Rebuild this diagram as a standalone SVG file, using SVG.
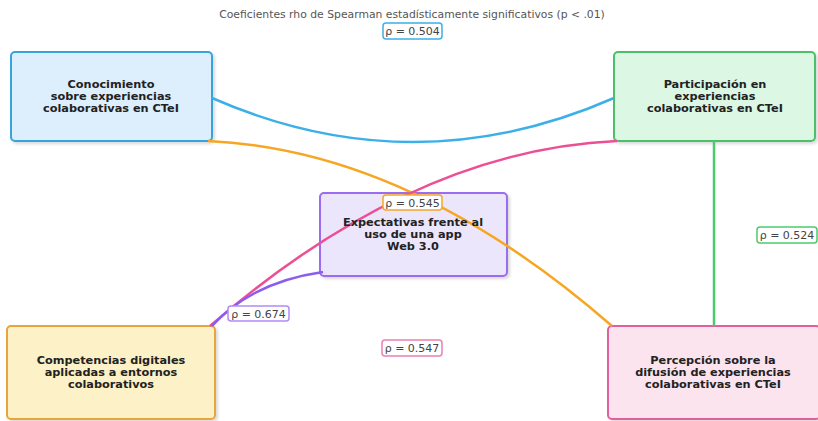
<svg xmlns="http://www.w3.org/2000/svg" width="818" height="421" viewBox="0 0 818 421">
<defs>
<filter id="sh" x="-10%" y="-10%" width="130%" height="130%"><feDropShadow dx="2" dy="2" stdDeviation="1.5" flood-color="#000" flood-opacity="0.15"/></filter>
<style>
.nt{font-family:"DejaVu Sans",sans-serif;font-weight:bold;font-size:11.3px;fill:#222;text-anchor:middle}
.lt{font-family:"DejaVu Sans",sans-serif;font-size:11px;fill:#444;text-anchor:middle}
.box{stroke-width:2}
.lb{fill:#fff;stroke-width:1.5}
.c{fill:none;stroke-width:2.5}
</style>
</defs>
<rect width="818" height="421" fill="#fff"/>
<text x="412" y="18" style="font-family:'DejaVu Sans',sans-serif;font-size:10.8px;fill:#555;text-anchor:middle">Coeficientes rho de Spearman estadísticamente significativos (p &lt; .01)</text>
<g id="n1"><rect class="box" x="11" y="52" width="201" height="89" rx="4" fill="#ddeefc" stroke="#3aa3dc" filter="url(#sh)"/>
<text class="nt"><tspan x="111" y="88">Conocimiento</tspan><tspan x="111" y="100">sobre experiencias</tspan><tspan x="111" y="112">colaborativas en CTeI</tspan></text></g>
<g id="n2"><rect class="box" x="614" y="52" width="201" height="89" rx="4" fill="#dcf7e3" stroke="#4cbf6b" filter="url(#sh)"/>
<text class="nt"><tspan x="715" y="88">Participación en</tspan><tspan x="715" y="100">experiencias</tspan><tspan x="715" y="112">colaborativas en CTeI</tspan></text></g>
<g id="n4"><rect class="box" x="7" y="326" width="208" height="93" rx="4" fill="#fdf1c7" stroke="#e7a53b" filter="url(#sh)"/>
<text class="nt"><tspan x="111" y="364">Competencias digitales</tspan><tspan x="111" y="376">aplicadas a entornos</tspan><tspan x="111" y="388">colaborativos</tspan></text></g>
<g id="n5"><rect class="box" x="608" y="326" width="212" height="93" rx="4" fill="#fce4ef" stroke="#e0609c" filter="url(#sh)"/>
<text class="nt"><tspan x="713" y="364">Percepción sobre la</tspan><tspan x="713" y="376">difusión de experiencias</tspan><tspan x="713" y="388">colaborativas en CTeI</tspan></text></g>
<g id="n3"><rect class="box" x="320" y="193" width="187" height="83" rx="4" fill="#ebe6fb" stroke="#9b6cf0" filter="url(#sh)"/></g>
<g id="connectors">
<path class="c" d="M212,98 Q413,186 614,98" stroke="#3bb0e8"/>
<path class="c" d="M208,141 Q410,150 612,326" stroke="#f6a623"/>
<path class="c" d="M210,326 Q413,150 617,141" stroke="#ec4f94"/>
<path class="c" d="M212,326 Q252,282 323,272" stroke="#8a5cf0" stroke-width="4.5"/>
<path class="c" d="M714,141 L714,326" stroke="#4ccb6c"/>
</g>
<g id="n3text"><text class="nt"><tspan x="413" y="226">Expectativas frente al</tspan><tspan x="413" y="238">uso de una app</tspan><tspan x="413" y="250">Web 3.0</tspan></text></g>
<g id="labels">
<rect class="lb" x="383" y="23" width="59" height="16" rx="3" stroke="#3bb0e8"/><text class="lt" x="412.5" y="35">ρ = 0.504</text>
<rect class="lb" x="383" y="195" width="59" height="15" rx="3" stroke="#f6a623"/><text class="lt" x="412.5" y="206.5">ρ = 0.545</text>
<rect class="lb" x="757" y="227" width="60" height="16" rx="3" stroke="#4ccb6c"/><text class="lt" x="787" y="239">ρ = 0.524</text>
<rect class="lb" x="228" y="306" width="61" height="15" rx="3" stroke="#b38af5"/><text class="lt" x="258.5" y="317.5">ρ = 0.674</text>
<rect class="lb" x="382" y="340" width="60" height="16" rx="3" stroke="#ec7fb0"/><text class="lt" x="412" y="352">ρ = 0.547</text>
</g>
</svg>
